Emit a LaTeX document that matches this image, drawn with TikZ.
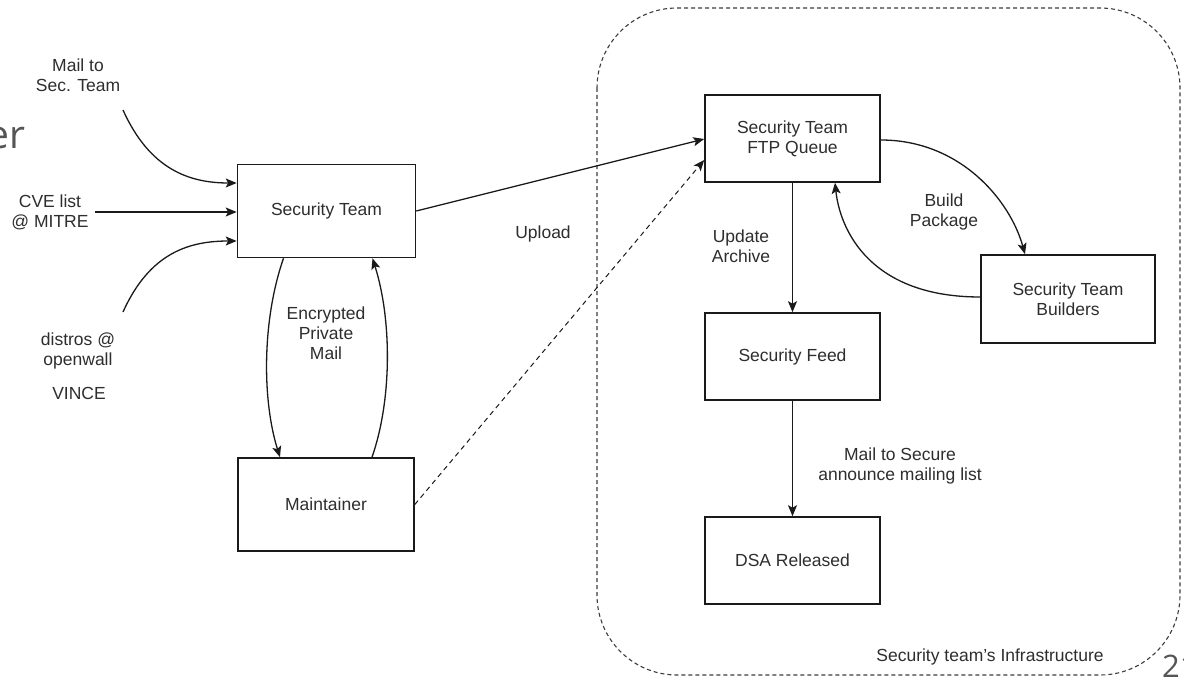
\documentclass[tikz,border=0pt]{standalone}
\usepackage{fontspec}
\setmainfont{Liberation Sans}
\newfontfamily\slidefont{Open Sans}
\usetikzlibrary{arrows.meta}
\definecolor{txt}{HTML}{2E2E2E}
\definecolor{ln}{HTML}{1A1A1A}
\definecolor{slidegray}{HTML}{555555}
\begin{document}
\begin{tikzpicture}[x=1pt,y=-1pt,
  font=\fontsize{17.5}{20}\selectfont,
  box/.style={draw=ln, line width=1.6pt, align=center, text=txt, inner sep=0pt},
  lbl/.style={align=center, text=txt, inner sep=0pt},
  conn/.style={draw=ln, line width=1.3pt, -{Stealth[length=11pt,width=9pt,inset=2.5pt]}},
  dconn/.style={conn, dash pattern=on 5pt off 4pt, line width=1pt}
]
\useasboundingbox (0,0) rectangle (1184,677);
\fill[white] (0,0) rectangle (1184,677);

% slide remnants
\node[anchor=base west, inner sep=0pt, text=slidegray, font=\slidefont\fontsize{39}{39}\selectfont] (er) at (-13,148) {er};
\node[anchor=base west, inner sep=0pt, text=slidegray, font=\slidefont\fontsize{31}{31}\selectfont] (pg) at (1162,677) {21};

% infrastructure region
\draw[draw=ln!85, line width=1.1pt, dash pattern=on 4pt off 3pt, rounded corners=80pt] (597,8) rectangle (1180,675);
\node[lbl] (infra) at (990,657) {Security team's Infrastructure};

% boxes
\node[box, minimum width=178pt, minimum height=93pt] (st) at (326.5,211) {Security Team};
\node[box, minimum width=176pt, minimum height=93pt] (mt) at (326,504.5) {Maintainer};
\node[box, minimum width=175pt, minimum height=87pt] (ftp) at (792.5,138.5) {Security Team\\FTP Queue};
\node[box, minimum width=175pt, minimum height=87pt] (feed) at (792.5,356.5) {Security Feed};
\node[box, minimum width=175pt, minimum height=87pt] (dsa) at (792.5,560.5) {DSA Released};
\node[box, minimum width=174pt, minimum height=88pt] (bld) at (1068,299) {Security Team\\Builders};

% sources
\node[lbl] (mail) at (78,75) {Mail to\\Sec. Team};
\node[lbl] (cve) at (50,212) {CVE list\\@ MITRE};
\node[lbl] (distros) at (78,351) {distros @\\openwall};
\node[lbl] (vince) at (79,393) {VINCE};

\coordinate (mailend) at (123,110);
\coordinate (cveend) at (95,212);
\coordinate (distend) at (123,312);

\draw[conn] (mailend) .. controls (150,170) and (190,183) .. (st.west |- 0,183);
\draw[conn] (cveend) -- (st.west |- 0,212);
\draw[conn] (distend) .. controls (150,252) and (190,241) .. (st.west |- 0,241);

% security team <-> maintainer
\draw[conn] ([xshift=-43pt]st.south) .. controls (262,320) and (262,400) .. ([xshift=-46pt]mt.north);
\draw[conn] ([xshift=46pt]mt.north) .. controls (392,400) and (392,320) .. ([xshift=46pt]st.south);
\node[lbl] (enc) at (326,333) {Encrypted\\Private\\Mail};

% uploads
\draw[conn] (st.east |- 0,211) -- ([yshift=-0.5pt]ftp.west);
\draw[dconn] (mt.east) -- (ftp.west |- 0,160);
\node[lbl] (upl) at (543,234) {Upload};

% infra flows
\draw[conn] (ftp.south) -- (feed.north);
\node[lbl] (upd) at (741,246) {Update\\Archive};
\draw[conn] (feed.south) -- (dsa.north);
\node[lbl] (mailsec) at (900,466) {Mail to Secure\\announce mailing list};

\draw[conn] (ftp.east |- 0,140) .. controls (960,140) and (1010,200) .. (bld.north -| 1025,0);
\draw[conn] (bld.west |- 0,297) .. controls (870,297) and (840,230) .. (ftp.south -| 835,0);
\node[lbl] (bp) at (944,212) {Build\\Package};
\end{tikzpicture}
\end{document}
